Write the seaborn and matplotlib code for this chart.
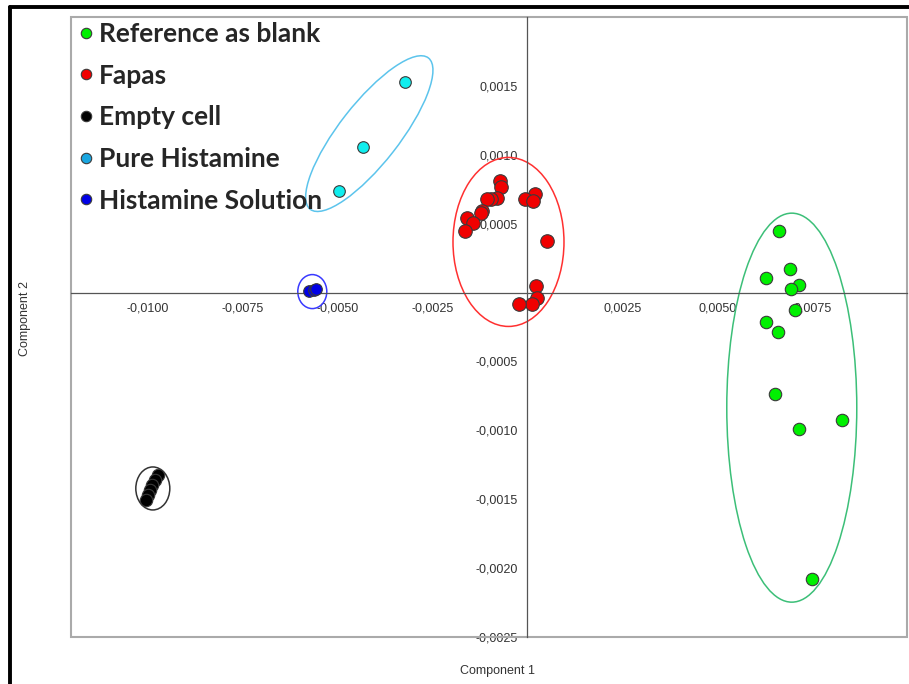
import numpy as np
import pandas as pd
import matplotlib
matplotlib.use("Agg")
import matplotlib.pyplot as plt
import matplotlib.transforms as mtransforms
from matplotlib.lines import Line2D
from matplotlib.patches import Ellipse, Rectangle
from matplotlib.ticker import FuncFormatter
import seaborn as sns

# --- data ---------------------------------------------------------------
groups = ["Reference as blank", "Fapas", "Empty cell", "Pure Histamine", "Histamine Solution"]

ref_x = [0.00663, 0.00691, 0.00627, 0.00714, 0.00694, 0.00705, 0.00627, 0.00661,
         0.00653, 0.00827, 0.00715, 0.00748]
ref_y = [0.00045, 0.000168, 0.000104, 0.000056, 0.000027, -0.000124, -0.000216, -0.000287,
         -0.000734, -0.000926, -0.00099, -0.00208]

fapas_x = [-0.000724, -0.000697, -0.000794, -0.000943, -0.00107, -0.00119, -0.00122, -0.00158,
           -0.00144, -0.00165, 0.000206, -0.000058, 0.000162, 0.000522, 0.000241, 0.000259,
           0.000136, -0.000216]
fapas_y = [0.000814, 0.000768, 0.000687, 0.000683, 0.000678, 0.00059, 0.000581, 0.000542,
           0.000508, 0.000445, 0.000719, 0.000678, 0.000666, 0.000372, 0.000051, -0.000036,
           -0.00008, -0.000085]

empty_x = [-0.00972, -0.00980, -0.00988, -0.00993, -0.00999, -0.01004]
empty_y = [-0.001327, -0.001363, -0.00140, -0.001436, -0.001472, -0.001509]

pure_x = [-0.00322, -0.00432, -0.00495]
pure_y = [0.001533, 0.001055, 0.000736]

sol_x = [-0.00574, -0.00561, -0.00555]
sol_y = [0.0000146, 0.0000219, 0.000027]

# group ellipses: centre (data units), size (pixels), angle (deg)
ell_cx = [0.00696, -0.000495, -0.009855, -0.004158, -0.005658]
ell_cy = [-0.000836, 0.000368, -0.001423, 0.001155, 0.0000073]
ell_w = [130, 111, 34, 192, 29]
ell_h = [389, 169, 43, 60, 34]
ell_ang = [0, 0, 0, 52, 0]

x_ticks = [-0.0100, -0.0075, -0.0050, -0.0025, 0.0025, 0.0050, 0.0075]
y_ticks = [0.0015, 0.0010, 0.0005, -0.0005, -0.0010, -0.0015, -0.0020, -0.0025]

point_colors = {"Reference as blank": "#00f000", "Fapas": "#f00000", "Empty cell": "#000000",
                "Pure Histamine": "#10eeee", "Histamine Solution": "#0000e6"}
legend_colors = ["#00f000", "#f00000", "#000000", "#1aa6e0", "#0000e6"]
ellipse_colors = ["#3cbf78", "#ff3030", "#333333", "#5cc4ec", "#3a3aff"]
point_sizes = {"Reference as blank": 80, "Fapas": 95, "Empty cell": 80,
               "Pure Histamine": 70, "Histamine Solution": 70}

df = pd.DataFrame({
    "Component 1": ref_x + fapas_x + empty_x + pure_x + sol_x,
    "Component 2": ref_y + fapas_y + empty_y + pure_y + sol_y,
    "group": ([groups[0]] * len(ref_x) + [groups[1]] * len(fapas_x) + [groups[2]] * len(empty_x)
              + [groups[3]] * len(pure_x) + [groups[4]] * len(sol_x)),
})

sns.set_style("white")
plt.rcParams["font.family"] = ["Liberation Sans", "DejaVu Sans"]

fig = plt.figure(figsize=(9.09, 6.84), dpi=100)
ax = fig.add_axes([71.3 / 909, 1 - 636.7 / 684, 836 / 909, 619.4 / 684])

for g in groups:
    sub = df[df["group"] == g]
    sns.scatterplot(data=sub, x="Component 1", y="Component 2", color=point_colors[g],
                    s=point_sizes[g], edgecolor="#3a3a3a", linewidth=0.8, zorder=3,
                    legend=False, ax=ax)

for i in range(len(groups)):
    tr = fig.dpi_scale_trans + mtransforms.ScaledTranslation(ell_cx[i], ell_cy[i], ax.transData)
    ax.add_patch(Ellipse((0, 0), ell_w[i] / 100, ell_h[i] / 100, angle=ell_ang[i],
                         transform=tr, fill=False, ec=ellipse_colors[i], lw=1.1, zorder=2))

ax.set_xlim(-0.0120, 0.0100)
ax.set_ylim(-0.0025, 0.0020)
ax.set_xticks(x_ticks)
ax.set_yticks(y_ticks)
fmt = FuncFormatter(lambda v, p: f"{v:.4f}".replace(".", ","))
ax.xaxis.set_major_formatter(fmt)
ax.yaxis.set_major_formatter(fmt)
ax.set_xlabel("")
ax.set_ylabel("")

ax.spines["left"].set_position(("data", 0))
ax.spines["bottom"].set_position(("data", 0))
for s in ["left", "bottom"]:
    ax.spines[s].set_color("#555555")
    ax.spines[s].set_linewidth(0.9)
ax.spines["top"].set_visible(False)
ax.spines["right"].set_visible(False)
ax.tick_params(direction="out", length=4, width=0.8, color="#555555",
               labelsize=9, labelcolor="#333333", pad=3)
ax.add_patch(Rectangle((0, 0), 1, 1, transform=ax.transAxes, fill=False,
                       ec="#aaaaaa", lw=1.5, clip_on=False, zorder=1))

handles = [Line2D([], [], ls="none", marker="o", markersize=7.5, markerfacecolor=c,
                  markeredgecolor="#3a3a3a", markeredgewidth=0.8) for c in legend_colors]
leg = fig.legend(handles, groups, loc="upper left", bbox_to_anchor=(79 / 909, 1 - 22 / 684),
                 frameon=False, borderpad=0, borderaxespad=0, handlelength=0.55,
                 handletextpad=0.2, labelspacing=0.67,
                 prop={"family": "Lato", "weight": "bold", "size": 19})

fig.text(497 / 909, 1 - 671 / 684, "Component 1", ha="center", va="center",
         fontsize=9, color="#333333")
fig.text(25 / 909, 1 - 319 / 684, "Component 2", ha="center", va="center",
         rotation=90, fontsize=9, color="#333333")

# outer black frame
fig.add_artist(Line2D([9.5 / 909, 9.5 / 909], [0, 1 - 6.5 / 684], color="black", lw=2.8,
                      transform=fig.transFigure))
fig.add_artist(Line2D([9.5 / 909, 1], [1 - 6.5 / 684, 1 - 6.5 / 684], color="black", lw=2.8,
                      transform=fig.transFigure))

fig.savefig("out.png", dpi=100)
